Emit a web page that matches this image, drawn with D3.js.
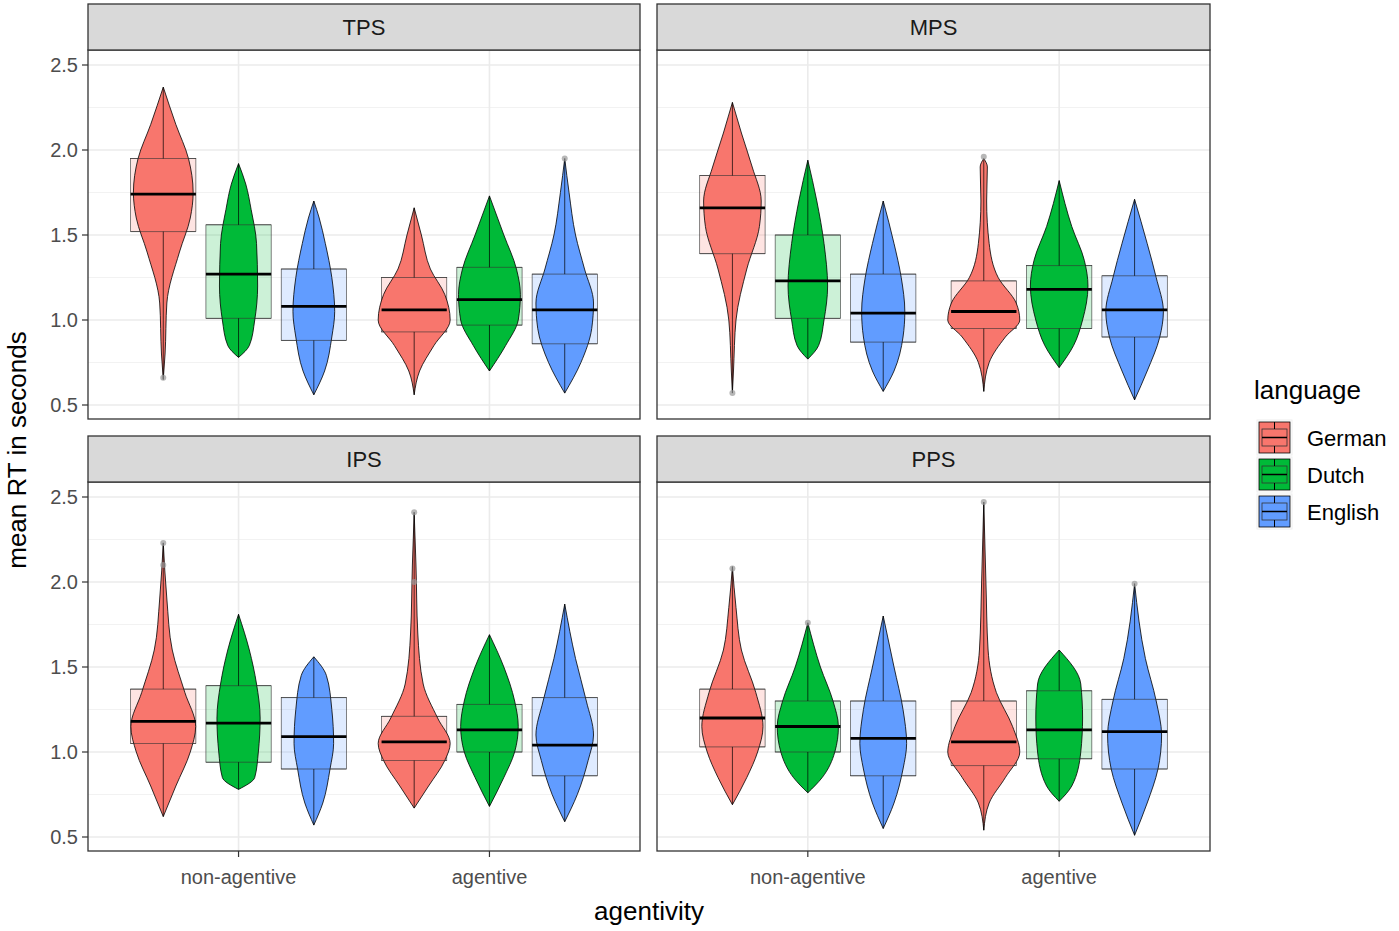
<!DOCTYPE html>
<html><head><meta charset="utf-8">
<script src="https://cdn.jsdelivr.net/npm/d3@7"></script>
<style>body{margin:0;background:#fff}svg{font-family:Arial,"Liberation Sans",sans-serif}</style>
</head><body><svg id="c" width="1399" height="931"></svg>
<script>
const facets = ["TPS","MPS","IPS","PPS"];
const agentivity = ["non-agentive","agentive"];
const languages = ["German","Dutch","English"];
const colors = ["#F8766D","#00BA38","#619CFF"];
const yTicks = [0.5,1.0,1.5,2.0,2.5];
// order: facet, agentivity, language
const q1  = [1.52,1.01,0.88, 0.93,0.97,0.86,  1.39,1.01,0.87, 0.95,0.95,0.90,  1.05,0.94,0.90, 0.95,1.00,0.86,  1.03,1.00,0.86, 0.92,0.96,0.90];
const med = [1.74,1.27,1.08, 1.06,1.12,1.06,  1.66,1.23,1.04, 1.05,1.18,1.06,  1.18,1.17,1.09, 1.06,1.13,1.04,  1.20,1.15,1.08, 1.06,1.13,1.12];
const q3  = [1.95,1.56,1.30, 1.25,1.31,1.27,  1.85,1.50,1.27, 1.23,1.32,1.26,  1.37,1.39,1.32, 1.21,1.28,1.32,  1.37,1.30,1.30, 1.30,1.36,1.31];
const density = [
 [[0.65,0],[0.8,0.05],[1.1,0.1],[1.4,0.45],[1.6,0.75],[1.75,0.83],[1.95,0.7],[2.15,0.35],[2.37,0]],
 [[0.78,0],[0.85,0.3],[1.0,0.45],[1.2,0.53],[1.45,0.5],[1.65,0.35],[1.8,0.2],[1.92,0]],
 [[0.56,0],[0.7,0.3],[0.9,0.5],[1.05,0.58],[1.25,0.5],[1.45,0.32],[1.6,0.15],[1.70,0]],
 [[0.56,0],[0.7,0.15],[0.85,0.55],[1.0,1.0],[1.15,0.85],[1.3,0.45],[1.5,0.2],[1.66,0]],
 [[0.70,0],[0.85,0.45],[1.0,0.8],[1.15,0.86],[1.3,0.75],[1.5,0.4],[1.73,0]],
 [[0.57,0],[0.75,0.45],[0.95,0.75],[1.1,0.8],[1.3,0.55],[1.5,0.3],[1.75,0.12],[1.95,0]],
 [[0.57,0],[0.7,0.03],[1.0,0.1],[1.3,0.4],[1.55,0.75],[1.7,0.8],[1.9,0.55],[2.1,0.25],[2.28,0]],
 [[0.77,0],[0.85,0.3],[1.0,0.45],[1.2,0.55],[1.45,0.45],[1.7,0.25],[1.94,0]],
 [[0.58,0],[0.7,0.3],[0.9,0.55],[1.05,0.6],[1.25,0.5],[1.45,0.3],[1.70,0]],
 [[0.58,0],[0.75,0.15],[0.9,0.6],[1.0,1.0],[1.1,0.9],[1.25,0.4],[1.45,0.15],[1.7,0.08],[1.9,0.1],[1.95,0]],
 [[0.72,0],[0.85,0.4],[1.0,0.65],[1.2,0.8],[1.35,0.7],[1.55,0.35],[1.82,0]],
 [[0.53,0],[0.7,0.35],[0.9,0.7],[1.05,0.8],[1.25,0.6],[1.45,0.35],[1.71,0]],
 [[0.62,0],[0.8,0.35],[1.0,0.75],[1.15,0.9],[1.35,0.6],[1.6,0.25],[1.9,0.1],[2.23,0]],
 [[0.78,0],[0.85,0.45],[1.0,0.55],[1.2,0.6],[1.4,0.5],[1.6,0.3],[1.81,0]],
 [[0.57,0],[0.7,0.25],[0.9,0.45],[1.05,0.55],[1.25,0.5],[1.45,0.35],[1.56,0]],
 [[0.67,0],[0.8,0.4],[0.95,0.85],[1.05,1.0],[1.2,0.65],[1.4,0.25],[1.7,0.1],[2.1,0.05],[2.41,0]],
 [[0.68,0],[0.85,0.4],[1.0,0.7],[1.15,0.8],[1.3,0.7],[1.5,0.4],[1.69,0]],
 [[0.59,0],[0.75,0.35],[0.95,0.65],[1.1,0.8],[1.3,0.6],[1.55,0.3],[1.87,0]],
 [[0.69,0],[0.85,0.4],[1.0,0.7],[1.15,0.85],[1.35,0.65],[1.6,0.25],[1.85,0.1],[2.09,0]],
 [[0.76,0],[0.85,0.4],[1.0,0.75],[1.15,0.85],[1.3,0.7],[1.5,0.35],[1.76,0]],
 [[0.55,0],[0.7,0.3],[0.9,0.55],[1.05,0.65],[1.25,0.55],[1.5,0.3],[1.8,0]],
 [[0.54,0],[0.7,0.15],[0.85,0.6],[1.0,1.0],[1.15,0.8],[1.35,0.35],[1.6,0.12],[2.0,0.06],[2.47,0]],
 [[0.71,0],[0.8,0.35],[1.0,0.6],[1.2,0.65],[1.4,0.6],[1.6,0]],
 [[0.51,0],[0.7,0.35],[0.9,0.65],[1.1,0.75],[1.3,0.6],[1.55,0.3],[1.99,0]]
];
const outliers = [[0,0.66],[5,1.95],[6,0.57],[9,1.96],[12,2.23],[12,2.1],[15,2.41],[15,2.0],[18,2.08],[21,2.47],[23,1.99],[19,1.76]];

const svg = d3.select("#c");
const cols = [[88,640],[657,1210]];
const rows = [{strip:4,top:50,bottom:419},{strip:436,top:482,bottom:851}];
const violinHalf = 36;

facets.forEach((f,fi)=>{
  const c = cols[fi%2], r = rows[Math.floor(fi/2)];
  const x = d3.scaleLinear().domain([0.4,2.6]).range(c);
  const boxW = x(1.26)-x(1);
  const y = d3.scaleLinear().domain([0.5,2.5]).range([r.bottom-14, r.top+15]);
  const g = svg.append("g");
  d3.range(0.75,2.5,0.5).forEach(v=>g.append("line").attr("x1",c[0]).attr("x2",c[1]).attr("y1",y(v)).attr("y2",y(v)).attr("stroke","#f2f2f2").attr("stroke-width",1));
  yTicks.forEach(v=>g.append("line").attr("x1",c[0]).attr("x2",c[1]).attr("y1",y(v)).attr("y2",y(v)).attr("stroke","#ebebeb").attr("stroke-width",1.6));
  agentivity.forEach((a,ai)=>{const cx=x(ai+1);g.append("line").attr("x1",cx).attr("x2",cx).attr("y1",r.top).attr("y2",r.bottom).attr("stroke","#ebebeb").attr("stroke-width",1.6);});
  agentivity.forEach((a,ai)=>languages.forEach((l,li)=>{
    const i = fi*6+ai*3+li;
    const cx = x(ai+1+(li-1)*0.3);
    const col = colors[li];
    const dens = density[i];
    const vmin = dens[0][0], vmax = dens[dens.length-1][0];
    g.append("rect").attr("x",cx-boxW/2).attr("width",boxW).attr("y",y(q3[i])).attr("height",y(q1[i])-y(q3[i]))
      .attr("fill",col).attr("fill-opacity",0.2).attr("stroke","#333").attr("stroke-width",0.6);
    const area = d3.area().curve(d3.curveMonotoneY).y(d=>y(d[0])).x0(d=>cx-d[1]*violinHalf).x1(d=>cx+d[1]*violinHalf);
    g.append("path").attr("d",area(dens)).attr("fill",col).attr("stroke","#000").attr("stroke-width",0.8);
    [q1[i],q3[i]].forEach(v=>g.append("line").attr("x1",cx-boxW/2).attr("x2",cx+boxW/2).attr("y1",y(v)).attr("y2",y(v)).attr("stroke","#333").attr("stroke-width",0.6));
    g.append("line").attr("x1",cx).attr("x2",cx).attr("y1",y(vmax)).attr("y2",y(q3[i])).attr("stroke","#000").attr("stroke-width",0.7);
    g.append("line").attr("x1",cx).attr("x2",cx).attr("y1",y(q1[i])).attr("y2",y(vmin)).attr("stroke","#000").attr("stroke-width",0.7);
    g.append("line").attr("x1",cx-boxW/2).attr("x2",cx+boxW/2).attr("y1",y(med[i])).attr("y2",y(med[i])).attr("stroke","#000").attr("stroke-width",2.8);
    outliers.filter(o=>o[0]===i).forEach(o=>g.append("circle").attr("cx",cx).attr("cy",y(o[1])).attr("r",3).attr("fill","#999").attr("fill-opacity",0.7));
  }));
  g.append("rect").attr("x",c[0]).attr("y",r.top).attr("width",c[1]-c[0]).attr("height",r.bottom-r.top).attr("fill","none").attr("stroke","#333").attr("stroke-width",1.3);
  g.append("rect").attr("x",c[0]).attr("y",r.strip).attr("width",c[1]-c[0]).attr("height",r.top-r.strip).attr("fill","#d9d9d9").attr("stroke","#333").attr("stroke-width",1.3);
  g.append("text").attr("x",(c[0]+c[1])/2).attr("y",(r.strip+r.top)/2+8).attr("text-anchor","middle").attr("font-size",22).attr("fill","#1a1a1a").text(f);
  if(fi%2===0){
    yTicks.forEach(v=>{
      g.append("line").attr("x1",c[0]-6).attr("x2",c[0]).attr("y1",y(v)).attr("y2",y(v)).attr("stroke","#333").attr("stroke-width",1.2);
      g.append("text").attr("x",c[0]-10).attr("y",y(v)+7).attr("text-anchor","end").attr("font-size",20).attr("fill","#4d4d4d").text(v.toFixed(1));
    });
  }
  if(fi>=2){
    agentivity.forEach((a,ai)=>{const cx=x(ai+1);
      g.append("line").attr("x1",cx).attr("x2",cx).attr("y1",r.bottom).attr("y2",r.bottom+6).attr("stroke","#333").attr("stroke-width",1.2);
      g.append("text").attr("x",cx).attr("y",r.bottom+33).attr("text-anchor","middle").attr("font-size",20).attr("fill","#4d4d4d").text(a);});
  }
});
svg.append("text").attr("transform","translate(26,450) rotate(-90)").attr("text-anchor","middle").attr("font-size",26).attr("fill","#000").text("mean RT in seconds");
svg.append("text").attr("x",649).attr("y",920).attr("text-anchor","middle").attr("font-size",26).attr("fill","#000").text("agentivity");
const lg = svg.append("g");
lg.append("text").attr("x",1254).attr("y",399).attr("font-size",26).text("language");
languages.forEach((l,i)=>{
  const ty = 420+i*37;
  lg.append("rect").attr("x",1257).attr("y",ty).attr("width",35).attr("height",35).attr("fill","#fff").attr("stroke","#eee");
  lg.append("rect").attr("x",1259).attr("y",ty+2).attr("width",31).attr("height",31).attr("fill",colors[i]).attr("stroke","#000").attr("stroke-width",0.8);
  lg.append("rect").attr("x",1262).attr("y",ty+9).attr("width",25).attr("height",17).attr("fill","none").attr("stroke","#333").attr("stroke-width",0.8);
  lg.append("line").attr("x1",1262).attr("x2",1287).attr("y1",ty+17.5).attr("y2",ty+17.5).attr("stroke","#000").attr("stroke-width",1.5);
  lg.append("line").attr("x1",1274.5).attr("x2",1274.5).attr("y1",ty+2).attr("y2",ty+9).attr("stroke","#000");
  lg.append("line").attr("x1",1274.5).attr("x2",1274.5).attr("y1",ty+26).attr("y2",ty+33).attr("stroke","#000");
  lg.append("text").attr("x",1307).attr("y",ty+26).attr("font-size",22).text(l);
});
</script></body></html>
